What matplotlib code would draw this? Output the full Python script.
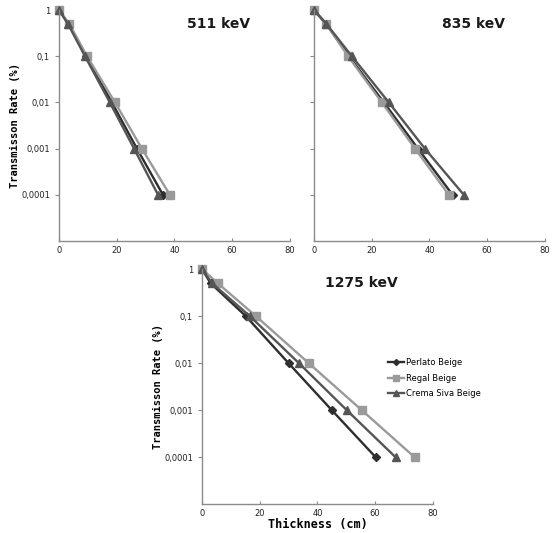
import matplotlib.pyplot as plt
from matplotlib.ticker import FixedLocator, FixedFormatter

# transmission levels (fraction) and labels
rate = [1, 0.5, 0.1, 0.01, 0.001, 0.0001]
ytick_vals = [1, 0.1, 0.01, 0.001, 0.0001]
ytick_labels = ['1', '0,1', '0,01', '0,001', '0,0001']
xtick_vals = [0, 20, 40, 60, 80]

series = ['Perlato Beige', 'Regal Beige', 'Crema Siva Beige']

# thickness (cm) for each transmission level
t511_perlato = [0, 3.3, 9.3, 18.3, 27.0, 36.0]
t511_regal = [0, 3.6, 9.7, 19.4, 28.7, 38.4]
t511_crema = [0, 3.1, 9.0, 17.6, 26.0, 34.3]

t835_perlato = [0, 4.2, 12.1, 24.2, 36.0, 48.0]
t835_regal = [0, 4.2, 11.8, 23.5, 35.0, 46.7]
t835_crema = [0, 4.3, 13.1, 25.9, 38.4, 51.9]

t1275_perlato = [0, 3.0, 15.2, 30.0, 45.0, 60.2]
t1275_regal = [0, 5.5, 18.7, 37.0, 55.4, 73.7]
t1275_crema = [0, 3.5, 16.6, 33.6, 50.2, 67.1]

colors = ['#2e2e2e', '#9a9a9a', '#555555']
markers = ['D', 's', '^']
msizes = [3.8, 6, 5.5]

fig = plt.figure(figsize=(5.52, 5.33), dpi=100)

ax1 = fig.add_axes([0.107, 0.548, 0.418, 0.433])
ax2 = fig.add_axes([0.569, 0.548, 0.418, 0.433])
ax3 = fig.add_axes([0.366, 0.054, 0.418, 0.441])

panels = [
    (ax1, '511 keV', [t511_perlato, t511_regal, t511_crema], True, False),
    (ax2, '835 keV', [t835_perlato, t835_regal, t835_crema], False, False),
    (ax3, '1275 keV', [t1275_perlato, t1275_regal, t1275_crema], True, True),
]

mono = 'DejaVu Sans Mono'

for ax, title, data, ylab, xlab in panels:
    for name, xs, c, m, ms in zip(series, data, colors, markers, msizes):
        ax.plot(xs, rate, color=c, marker=m, markersize=ms, lw=1.7,
                label=name, clip_on=False)
    ax.set_yscale('log')
    ax.set_ylim(1e-5, 1)
    ax.set_xlim(0, 80)
    ax.yaxis.set_major_locator(FixedLocator(ytick_vals))
    ax.yaxis.set_minor_locator(FixedLocator([]))
    ax.set_xticks(xtick_vals)
    for s in ['top', 'right']:
        ax.spines[s].set_visible(False)
    for s in ['left', 'bottom']:
        ax.spines[s].set_color('#8a8a8a')
        ax.spines[s].set_linewidth(1.0)
    ax.tick_params(axis='both', colors='#8a8a8a', labelcolor='#222222',
                   labelsize=6, length=3, width=0.8)
    ax.tick_params(axis='x', length=2, direction='in')
    if ylab:
        ax.yaxis.set_major_formatter(FixedFormatter(ytick_labels))
        ax.set_ylabel('Transmisson Rate (%)', family=mono, fontweight='bold',
                      fontsize=7.5, labelpad=1)
    else:
        ax.set_yticklabels([])
    if xlab:
        ax.set_xlabel('Thickness (cm)', family=mono, fontweight='bold',
                      fontsize=8.5, labelpad=0)
    ax.text(0.69, 0.94, title, transform=ax.transAxes, ha='center',
            va='center', fontsize=10, fontweight='bold', color='#1a1a1a')

ax3.legend(loc='upper left', bbox_to_anchor=(0.79, 0.635), frameon=False,
           fontsize=6, handlelength=2.0, handletextpad=0.2,
           labelspacing=0.75, borderaxespad=0, markerscale=0.8)

fig.savefig('out.png', dpi=100)
